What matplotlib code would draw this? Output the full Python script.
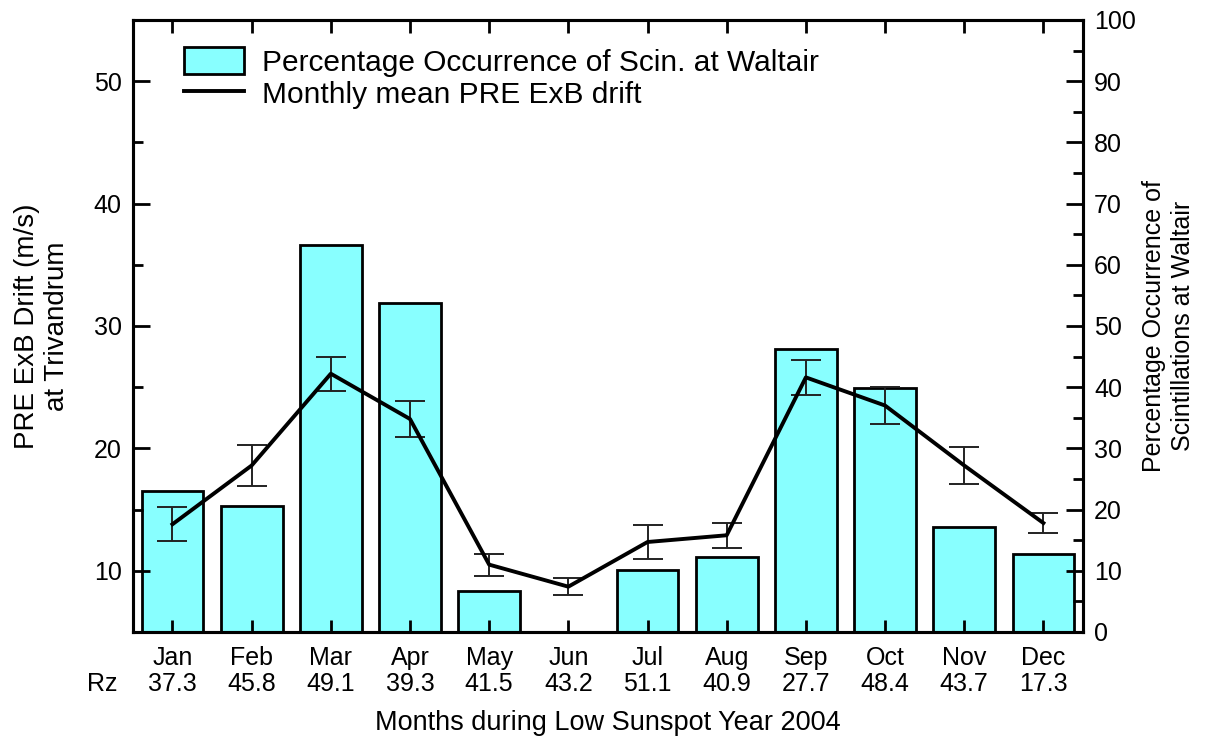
import matplotlib
matplotlib.use("Agg")
import matplotlib.pyplot as plt
from matplotlib.ticker import MultipleLocator

plt.rcParams['font.family'] = ['Liberation Sans', 'DejaVu Sans']

months = ["Jan", "Feb", "Mar", "Apr", "May", "Jun", "Jul", "Aug", "Sep", "Oct", "Nov", "Dec"]
rz = ["37.3", "45.8", "49.1", "39.3", "41.5", "43.2", "51.1", "40.9", "27.7", "48.4", "43.7", "17.3"]
scin_pct = [23.1, 20.6, 63.2, 53.8, 6.7, 0.0, 10.1, 12.2, 46.3, 39.9, 17.2, 12.7]
drift = [13.8, 18.6, 26.1, 22.4, 10.5, 8.7, 12.35, 12.9, 25.8, 23.5, 18.6, 13.9]
drift_err = [1.4, 1.7, 1.4, 1.45, 0.9, 0.7, 1.4, 1.0, 1.45, 1.55, 1.55, 0.8]

fig = plt.figure(figsize=(12.08, 7.40), dpi=100)
ax = fig.add_axes([0.110, 0.146, 0.7865, 0.827])
ax2 = ax.twinx()
ax.set_zorder(ax2.get_zorder() + 1)
ax.patch.set_visible(False)

x = list(range(len(months)))
bars = ax2.bar(x, scin_pct, width=0.78, color="#88FFFF", edgecolor="black",
               linewidth=2.0, label="Percentage Occurrence of Scin. at Waltair")
ax.errorbar(x, drift, yerr=drift_err, fmt='none', ecolor='#222222', elinewidth=1.4,
            capsize=11, capthick=1.4, zorder=3)
line, = ax.plot(x, drift, color='black', linewidth=2.8, zorder=4,
                label="Monthly mean PRE ExB drift")

ax.set_xlim(-0.5, 11.5)
ax.set_ylim(5, 55)
ax2.set_ylim(0, 100)

ax.set_xticks(x)
ax.set_xticklabels([f"{m}\n{r}" for m, r in zip(months, rz)], fontsize=18,
                   linespacing=1.12)
ax.yaxis.set_major_locator(MultipleLocator(10))
ax.yaxis.set_minor_locator(MultipleLocator(5))
ax.set_yticks([10, 20, 30, 40, 50])
ax2.yaxis.set_major_locator(MultipleLocator(10))
ax2.yaxis.set_minor_locator(MultipleLocator(5))

ax.tick_params(axis='x', which='both', direction='in', length=9, width=2,
               top=True, pad=10)
ax.tick_params(axis='y', which='major', direction='in', length=12, width=2,
               labelsize=18, pad=8)
ax.tick_params(axis='y', which='minor', direction='in', length=7, width=2)
ax2.tick_params(axis='y', which='major', direction='in', length=12, width=2,
                labelsize=18, pad=8)
ax2.tick_params(axis='y', which='minor', direction='in', length=7, width=2)

for a in (ax, ax2):
    for s in a.spines.values():
        s.set_linewidth(2.2)

ax.set_ylabel("PRE ExB Drift (m/s)\nat Trivandrum", fontsize=20, labelpad=17,
              linespacing=1.2)
ax2.set_ylabel("Percentage Occurrence of\nScintillations at Waltair", fontsize=18,
               labelpad=4, linespacing=1.3)
ax.set_xlabel("Months during Low Sunspot Year 2004", fontsize=19.5, labelpad=10)

fig.text(102 / 1208, 1 - 684 / 740, "Rz", fontsize=18, ha='center', va='center')

leg = ax.legend([bars, line],
                ["Percentage Occurrence of Scin. at Waltair", "Monthly mean PRE ExB drift"],
                loc='upper left', bbox_to_anchor=(0.035, 0.985), frameon=False,
                fontsize=21.5, handlelength=2.0, handleheight=1.0, handletextpad=0.6,
                labelspacing=0.1, borderaxespad=0.2)

fig.savefig("out.png", dpi=100, facecolor='white')
